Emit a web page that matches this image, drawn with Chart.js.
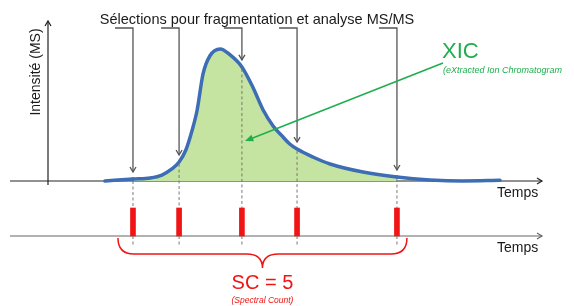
<!DOCTYPE html>
<html lang="fr">
<head>
<meta charset="utf-8">
<title>XIC et Spectral Count</title>
<script src="https://cdn.jsdelivr.net/npm/chart.js@4.4.1/dist/chart.umd.min.js"></script>
<style>
  html, body { margin: 0; padding: 0; background: #fff; }
  canvas { display: block; }
</style>
</head>
<body>
<canvas id="xicChart" width="574" height="306"></canvas>
<script>
const temps     = [12.6, 18.8, 22.6, 25.2, 27.4, 29.0, 30.5, 31.9, 33.0, 34.3, 35.8, 38.1, 40.3, 42.9,
                   45.4, 47.6, 49.8, 52.0, 53.5, 55.1, 58.6, 62.4, 69.7, 77.2, 84.5, 91.8, 100];
const intensite = [0, 1.5, 2.3, 4.5, 9.1, 14.4, 23.5, 38.6, 53.8, 81.1, 94.7, 100, 95.5, 86.4,
                   70.5, 53.8, 41.7, 33.3, 28.0, 24.2, 18.2, 12.9, 6.8, 3.0, 0.8, 0, 0.5];

// Temps des sélections pour MS/MS et nombre de spectres à chaque sélection
const selections = [18.8, 29.0, 42.9, 55.1, 77.2];
const spectres   = [1, 1, 1, 1, 1];

// Textes
const titre      = 'Sélections pour fragmentation et analyse MS/MS';
const labelY     = 'Intensité (MS)';
const labelX     = 'Temps';
const labelXic   = 'XIC';
const sousXic    = '(eXtracted Ion Chromatogram';
const labelSc    = 'SC = ' + spectres.reduce((a, b) => a + b, 0);
const sousSc     = '(Spectral Count)';

// Couleurs
const bleu  = '#3d6db4';
const vert  = '#c5e4a1';
const vertT = '#1fae4f';
const rouge = '#f01414';
const gris  = '#555555';

// Mise en page (pixels du canevas)
const W = 574, H = 306;
const X_T0 = 48, X_T100 = 500;      // temps 0 et 100
const Y_I0 = 181, Y_I100 = 49;      // intensité 0 et 100
const Y_S0 = 236, Y_S1 = 208;       // 0 et 1 spectre

function bornesX(p0, p1, v0, v1) {
    const k = (p1 - p0) / (v1 - v0);
    const min = v0 - p0 / k;
    return { min: min, max: min + W / k };
}
function bornesY(p0, p1, v0, v1) {
    const k = (p0 - p1) / (v1 - v0);
    const max = v0 + p0 / k;
    return { min: max - H / k, max: max };
}
const bx = bornesX(X_T0, X_T100, 0, 100);
const by = bornesY(Y_I0, Y_I100, 0, 100);
const bs = bornesY(Y_S0, Y_S1, 0, 1);

const police = '"Liberation Sans", Arial, sans-serif';

function fleche(ctx, x, y, dir, taille) {
    // chevron ouvert ; dir = 'bas', 'haut', 'droite'
    ctx.beginPath();
    if (dir === 'bas') {
        ctx.moveTo(x - taille * 0.6, y - taille); ctx.lineTo(x, y); ctx.lineTo(x + taille * 0.6, y - taille);
    } else if (dir === 'haut') {
        ctx.moveTo(x - taille * 0.6, y + taille); ctx.lineTo(x, y); ctx.lineTo(x + taille * 0.6, y + taille);
    } else {
        ctx.moveTo(x - taille, y - taille * 0.6); ctx.lineTo(x, y); ctx.lineTo(x - taille, y + taille * 0.6);
    }
    ctx.stroke();
}

// Axes dessinés sous les données
const axesPlugin = {
    id: 'axes',
    beforeDatasetsDraw(chart) {
        const ctx = chart.ctx;
        const sx = chart.scales.x, sy = chart.scales.y, ss = chart.scales.ys;
        const y0 = sy.getPixelForValue(0);
        const ys0 = ss.getPixelForValue(0);
        ctx.save();
        ctx.lineWidth = 1.2;
        ctx.strokeStyle = '#222';
        // axe du temps (XIC)
        ctx.beginPath(); ctx.moveTo(10, y0); ctx.lineTo(542, y0); ctx.stroke();
        fleche(ctx, 542, y0, 'droite', 5);
        // axe des intensités
        const xa = sx.getPixelForValue(0);
        ctx.beginPath(); ctx.moveTo(xa, y0 + 4); ctx.lineTo(xa, 21); ctx.stroke();
        fleche(ctx, xa, 21, 'haut', 5);
        // axe du temps (spectres)
        ctx.strokeStyle = '#666';
        ctx.beginPath(); ctx.moveTo(10, ys0); ctx.lineTo(542, ys0); ctx.stroke();
        fleche(ctx, 542, ys0, 'droite', 5);
        ctx.restore();
    }
};

// Annotations : flèches de sélection, pointillés, accolade, textes
const annotPlugin = {
    id: 'annotations',
    afterDatasetsDraw(chart) {
        const ctx = chart.ctx;
        const sx = chart.scales.x, ss = chart.scales.ys;
        const courbe = chart.getDatasetMeta(0).data;
        const ys0 = ss.getPixelForValue(0);
        const ys1 = ss.getPixelForValue(1);
        ctx.save();

        selections.forEach(t => {
            const px = sx.getPixelForValue(t);
            const pt = courbe[temps.indexOf(t)];
            const yc = pt ? pt.y : Y_I0;
            // pointillés verticaux (interrompus par la barre rouge)
            ctx.strokeStyle = '#777';
            ctx.lineWidth = 1;
            ctx.setLineDash([3, 2.5]);
            ctx.beginPath();
            ctx.moveTo(px, yc + 2); ctx.lineTo(px, ys1);
            ctx.moveTo(px, ys0); ctx.lineTo(px, ys0 + 11);
            ctx.stroke();
            ctx.setLineDash([]);
            // flèche coudée depuis le titre
            const tip = yc - 7;
            ctx.strokeStyle = gris;
            ctx.lineWidth = 1.3;
            ctx.beginPath();
            ctx.moveTo(px - 18, 28); ctx.lineTo(px, 28); ctx.lineTo(px, tip);
            ctx.stroke();
            fleche(ctx, px, tip, 'bas', 5);
        });

        // titre
        ctx.fillStyle = '#1a1a1a';
        ctx.font = '14.5px ' + police;
        ctx.textAlign = 'center';
        ctx.textBaseline = 'middle';
        ctx.fillText(titre, 257, 20);

        // légendes des axes
        ctx.font = '14px ' + police;
        ctx.textAlign = 'left';
        ctx.fillText(labelX, 497, 193);
        ctx.fillText(labelX, 497, 248);
        ctx.save();
        ctx.translate(36, 72);
        ctx.rotate(-Math.PI / 2);
        ctx.textAlign = 'center';
        ctx.fillText(labelY, 0, 0);
        ctx.restore();

        // XIC et flèche verte
        ctx.fillStyle = vertT;
        ctx.font = '22px ' + police;
        ctx.fillText(labelXic, 442, 52);
        ctx.font = 'italic 9px ' + police;
        ctx.fillText(sousXic, 443, 70);
        const ax = 245, ay = 141, bx0 = 443, by0 = 63;
        ctx.strokeStyle = vertT;
        ctx.lineWidth = 1.6;
        ctx.beginPath(); ctx.moveTo(bx0, by0); ctx.lineTo(ax + 4, ay - 1.6); ctx.stroke();
        const ang = Math.atan2(ay - by0, ax - bx0);
        ctx.beginPath();
        ctx.moveTo(ax, ay);
        ctx.lineTo(ax - 9 * Math.cos(ang - 0.4), ay - 9 * Math.sin(ang - 0.4));
        ctx.lineTo(ax - 9 * Math.cos(ang + 0.4), ay - 9 * Math.sin(ang + 0.4));
        ctx.closePath();
        ctx.fill();

        // accolade sous les spectres
        const g = sx.getPixelForValue(selections[0]) - 15;
        const d = sx.getPixelForValue(selections[selections.length - 1]) + 10;
        const m = (g + d) / 2;
        const yh = ys0 + 2, yb = ys0 + 18, yp = ys0 + 32, r = 16;
        ctx.strokeStyle = rouge;
        ctx.lineWidth = 1.5;
        ctx.beginPath();
        ctx.moveTo(g, yh);
        ctx.quadraticCurveTo(g, yb, g + r, yb);
        ctx.lineTo(m - r, yb);
        ctx.quadraticCurveTo(m, yb, m, yp);
        ctx.quadraticCurveTo(m, yb, m + r, yb);
        ctx.lineTo(d - r, yb);
        ctx.quadraticCurveTo(d, yb, d, yh);
        ctx.stroke();

        ctx.fillStyle = rouge;
        ctx.textAlign = 'center';
        ctx.font = '20px ' + police;
        ctx.fillText(labelSc, m, ys0 + 47);
        ctx.font = 'italic 8.5px ' + police;
        ctx.fillText(sousSc, m, ys0 + 65);

        ctx.restore();
    }
};

const premier = selections[0];
const dernier = selections[selections.length - 1];

new Chart(document.getElementById('xicChart'), {
    type: 'line',
    data: {
        datasets: [{
            label: 'XIC',
            data: temps.map((t, i) => ({ x: t, y: intensite[i] })),
            borderColor: bleu,
            borderWidth: 3.5,
            backgroundColor: vert,
            fill: 'origin',
            pointRadius: 0,
            cubicInterpolationMode: 'monotone',
            borderCapStyle: 'round',
            segment: {
                backgroundColor: c => (c.p0.parsed.x >= premier && c.p1.parsed.x <= dernier) ? vert : 'rgba(0,0,0,0)'
            },
            xAxisID: 'x',
            yAxisID: 'y',
            order: 1
        }, {
            type: 'bar',
            label: 'Spectres MS/MS',
            data: selections.map((t, i) => ({ x: t, y: spectres[i] })),
            backgroundColor: rouge,
            barThickness: 5,
            xAxisID: 'x',
            yAxisID: 'ys',
            order: 0
        }]
    },
    options: {
        responsive: false,
        animation: false,
        devicePixelRatio: 1,
        layout: { padding: 0 },
        scales: {
            x: { type: 'linear', display: false, offset: false, min: bx.min, max: bx.max },
            y: { type: 'linear', display: false, min: by.min, max: by.max },
            ys: { type: 'linear', display: false, min: bs.min, max: bs.max }
        },
        plugins: {
            legend: { display: false },
            tooltip: { enabled: false }
        }
    },
    plugins: [axesPlugin, annotPlugin]
});
</script>
</body>
</html>
